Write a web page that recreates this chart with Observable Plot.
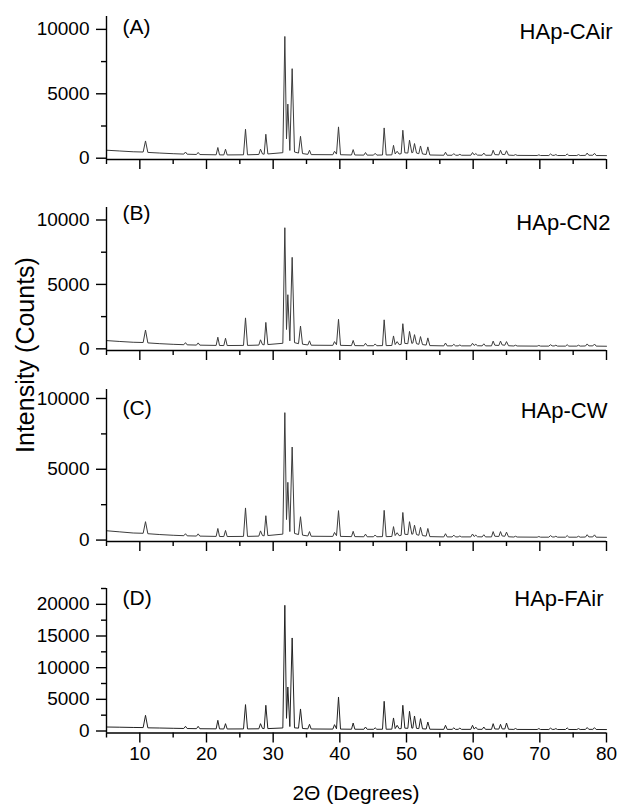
<!DOCTYPE html>
<html><head><meta charset="utf-8">
<script src="https://cdn.jsdelivr.net/npm/d3@7"></script>
<script src="https://cdn.jsdelivr.net/npm/@observablehq/plot@0.6"></script>
<style>
body{margin:0;background:#fff;}
#chart{position:relative;width:617px;height:804px;font-family:"Liberation Sans",Arial,sans-serif;color:#000;overflow:hidden;}
#chart svg{position:absolute;left:0;}
#ytitle{position:absolute;left:25px;top:355px;transform:translate(-50%,-50%) rotate(-90deg);white-space:nowrap;font-size:25px;line-height:1;}
#xtitle{position:absolute;left:356px;top:782px;transform:translateX(-50%);white-space:nowrap;font-size:21px;line-height:1;}
</style></head>
<body><div id="chart"></div>
<script>
// 2θ sample positions (degrees), shared by the four patterns
const twoTheta = [
  5, 7, 9, 10.5, 10.85, 11.2, 13, 15,
  16.6, 16.85, 17.1, 18.5, 18.75, 19.0,
  21.45, 21.7, 21.95, 22.6, 22.85, 23.1,
  25.55, 25.85, 26.15, 27.85, 28.1, 28.4, 28.65, 28.9, 29.2,
  31.45, 31.75, 32.0, 32.2, 32.5, 32.85, 33.2,
  33.8, 34.1, 34.4, 35.2, 35.45, 35.7,
  38.95, 39.2, 39.5, 39.8, 40.1, 41.75, 42.0, 42.25,
  43.6, 43.85, 44.1, 45.05, 45.3, 45.55,
  46.4, 46.65, 46.95, 47.8, 48.05, 48.3, 48.6, 48.9,
  49.2, 49.45, 49.75, 50.2, 50.45, 50.8, 50.95, 51.2, 51.5,
  51.85, 52.1, 52.4, 52.95, 53.2, 53.5,
  55.6, 55.85, 56.1, 56.85, 57.1, 57.35, 57.75, 58.0, 58.25,
  59.65, 59.9, 60.15, 60.4, 60.65, 61.35, 61.6, 61.85,
  62.75, 63.0, 63.25, 63.85, 64.1, 64.35, 64.75, 65.0, 65.3,
  66.1, 66.35, 66.6, 69.6, 69.85, 70.1,
  71.35, 71.6, 71.85, 72.15, 72.4, 72.65, 73.85, 74.1, 74.35,
  75.55, 75.8, 76.05, 76.85, 77.1, 77.35, 77.95, 78.2, 78.45, 80
];

// Intensity (counts) of each sample
const countsA = [
  620, 560, 500, 480, 1340, 450, 400, 350,
  320, 480, 310, 290, 450, 285,
  265, 830, 260, 255, 700, 255,
  265, 2250, 265, 290, 700, 330, 310, 1860, 330,
  430, 9450, 1500, 4200, 600, 6950, 480,
  400, 1700, 360, 300, 620, 280,
  270, 540, 320, 2430, 270, 250, 670, 250,
  240, 440, 240, 240, 380, 240,
  250, 2350, 250, 260, 1000, 330, 540, 320,
  350, 2170, 420, 400, 1400, 420, 450, 1140, 400,
  350, 950, 330, 290, 880, 250,
  230, 465, 230, 230, 360, 230, 230, 300, 230,
  230, 440, 260, 360, 240, 230, 400, 230,
  230, 620, 280, 260, 620, 300, 280, 580, 240,
  220, 280, 220, 210, 260, 210,
  210, 330, 230, 220, 280, 210, 210, 330, 210,
  210, 280, 210, 220, 400, 230, 230, 380, 210, 200
];
const countsB = [
  640, 570, 510, 490, 1460, 460, 400, 350,
  320, 480, 310, 290, 460, 285,
  265, 900, 260, 255, 820, 255,
  265, 2400, 265, 290, 700, 330, 310, 2050, 330,
  430, 9400, 1500, 4200, 620, 7100, 480,
  400, 1770, 360, 300, 620, 280,
  270, 560, 320, 2290, 270, 250, 650, 250,
  240, 430, 240, 240, 380, 240,
  250, 2250, 250, 260, 1000, 330, 560, 320,
  350, 1950, 420, 400, 1350, 420, 450, 1100, 400,
  350, 950, 330, 290, 850, 250,
  230, 450, 230, 230, 350, 230, 230, 300, 230,
  230, 430, 260, 350, 240, 230, 390, 230,
  230, 600, 280, 260, 600, 300, 280, 560, 240,
  220, 280, 220, 210, 260, 210,
  210, 320, 230, 220, 280, 210, 210, 320, 210,
  210, 280, 210, 220, 380, 230, 230, 370, 210, 200
];
const countsC = [
  660, 580, 500, 480, 1300, 450, 390, 340,
  310, 450, 300, 285, 440, 280,
  260, 820, 255, 250, 680, 250,
  260, 2270, 260, 280, 650, 320, 300, 1720, 320,
  420, 9000, 1450, 4080, 600, 6570, 470,
  390, 1650, 350, 290, 600, 270,
  260, 540, 310, 2080, 260, 245, 620, 245,
  235, 420, 235, 235, 360, 235,
  245, 2100, 245, 255, 950, 320, 520, 310,
  340, 1950, 410, 390, 1300, 410, 430, 1050, 390,
  340, 900, 320, 280, 820, 245,
  225, 450, 225, 225, 350, 225, 225, 290, 225,
  225, 430, 250, 350, 235, 225, 380, 225,
  225, 600, 270, 255, 600, 290, 270, 560, 235,
  215, 270, 215, 205, 250, 205,
  205, 320, 225, 215, 270, 205, 205, 320, 205,
  205, 270, 205, 215, 380, 225, 225, 370, 205, 195
];
const countsD = [
  630, 600, 560, 540, 2480, 500, 470, 430,
  400, 740, 390, 370, 740, 360,
  340, 1690, 330, 320, 1160, 320,
  330, 4170, 330, 350, 1160, 400, 380, 4060, 380,
  480, 19850, 2000, 6950, 700, 14690, 500,
  450, 3480, 400, 340, 1060, 320,
  300, 1000, 350, 5370, 300, 280, 1260, 280,
  270, 630, 270, 270, 500, 270,
  280, 4690, 280, 290, 2060, 380, 900, 360,
  380, 4060, 450, 420, 3110, 450, 460, 2370, 420,
  380, 1950, 350, 310, 1420, 280,
  260, 900, 260, 260, 500, 260, 260, 450, 260,
  260, 900, 300, 600, 270, 260, 630, 260,
  260, 1160, 320, 300, 1050, 330, 320, 1260, 280,
  250, 400, 250, 240, 380, 240,
  240, 450, 260, 250, 380, 240, 240, 500, 240,
  240, 380, 240, 250, 550, 260, 260, 520, 240, 230
];

const xTicksMajor = [10, 20, 30, 40, 50, 60, 70, 80];
const xTicksMinor = [5, 15, 25, 35, 45, 55, 65, 75];
const yTicksMajorABC = [0, 5000, 10000];
const yTicksMinorABC = [2500, 7500];
const yTicksMajorD = [0, 5000, 10000, 15000, 20000];
const yTicksMinorD = [2500, 7500, 12500, 17500, 22500];
const panelLetters = ["(A)", "(B)", "(C)", "(D)"];
const sampleNames = ["HAp-CAir", "HAp-CN2", "HAp-CW", "HAp-FAir"];
const xTitle = "2\u0398 (Degrees)";
const yTitle = "Intensity (Counts)";

const xDomain = [5, 80];
const panels = [
  {counts: countsA, yDomain: [-100, 11000], yMajor: yTicksMajorABC, yMinor: yTicksMinorABC, top: 0,   plotH: 143,   letterDy: 11, nameDy: 15, nameDx: 6, showX: false, stroke: "#3c3c3c"},
  {counts: countsB, yDomain: [-130, 10970], yMajor: yTicksMajorABC, yMinor: yTicksMinorABC, top: 191, plotH: 143,   letterDy: 6,  nameDy: 15, nameDx: 4, showX: false, stroke: "#3c3c3c"},
  {counts: countsC, yDomain: [-100, 10635], yMajor: yTicksMajorABC, yMinor: yTicksMinorABC, top: 373, plotH: 152,   letterDy: 19, nameDy: 21, nameDx: 1, showX: false, stroke: "#3c3c3c"},
  {counts: countsD, yDomain: [-315, 22500], yMajor: yTicksMajorD,   yMinor: yTicksMinorD,   top: 572, plotH: 144.5, letterDy: 10, nameDy: 10, nameDx: -3, showX: true, stroke: "#222"}
];

const chart = document.getElementById("chart");
const marginTop = 16, marginLeft = 106, marginRight = 11;
const plain = d => String(d);
const blank = () => "";

panels.forEach((p, i) => {
  const data = twoTheta.map((t, j) => ({t, c: p.counts[j]}));
  const marginBottom = p.showX ? 232 - marginTop - p.plotH : 25;
  const height = marginTop + p.plotH + marginBottom;
  const svg = Plot.plot({
    width: 617,
    height,
    marginTop, marginLeft, marginRight, marginBottom,
    style: {fontFamily: '"Liberation Sans", Arial, sans-serif', fontSize: "19px", background: "transparent", overflow: "visible", color: "#000"},
    x: {domain: xDomain, label: null},
    y: {domain: p.yDomain, label: null},
    marks: [
      Plot.line(data, {x: "t", y: "c", stroke: p.stroke, strokeWidth: 1}),
      Plot.ruleX([xDomain[0]], {stroke: "#000", strokeWidth: 1.4}),
      Plot.ruleY([p.yDomain[0]], {stroke: "#000", strokeWidth: 1.4}),
      Plot.axisY(p.yMajor, {label: null, tickSize: 10, tickPadding: 7, strokeWidth: 1.4, fontSize: 19, tickFormat: plain}),
      Plot.axisY(p.yMinor, {label: null, tickSize: 5, strokeWidth: 1.4, tickFormat: blank}),
      Plot.axisX(xTicksMajor, {label: null, tickSize: 10, tickPadding: 3, strokeWidth: 1.4, fontSize: 19, tickFormat: p.showX ? plain : blank}),
      Plot.axisX(xTicksMinor, {label: null, tickSize: 5, strokeWidth: 1.4, tickFormat: blank}),
      Plot.text([panelLetters[i]], {frameAnchor: "top-left", textAnchor: "start", lineAnchor: "middle", dx: 16, dy: p.letterDy, fontSize: 21}),
      Plot.text([sampleNames[i]], {frameAnchor: "top-right", textAnchor: "end", lineAnchor: "middle", dx: p.nameDx, dy: p.nameDy, fontSize: 22})
    ]
  });
  svg.style.top = p.top + "px";
  chart.appendChild(svg);
});

const yt = document.createElement("div");
yt.id = "ytitle"; yt.textContent = yTitle;
chart.appendChild(yt);
const xt = document.createElement("div");
xt.id = "xtitle"; xt.textContent = xTitle;
chart.appendChild(xt);
</script>
</body></html>
